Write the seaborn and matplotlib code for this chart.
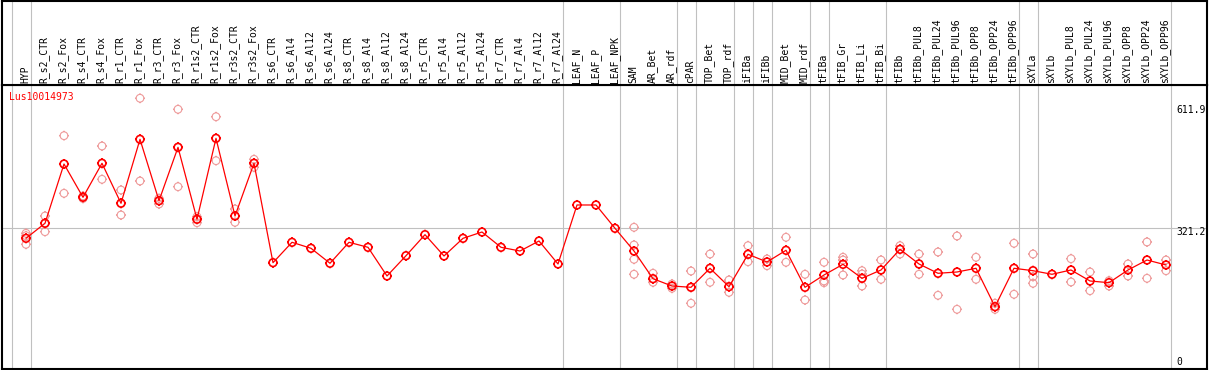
import matplotlib
matplotlib.use("Agg")
import matplotlib.pyplot as plt
from matplotlib.path import Path
import pandas as pd
import seaborn as sns

# データ
gene_id = "Lus10014973"

categories = [
    "HYP", "R_s2_CTR", "R_s2_Fox", "R_s4_CTR", "R_s4_Fox", "R_r1_CTR", "R_r1_Fox",
    "R_r3_CTR", "R_r3_Fox", "R_r1s2_CTR", "R_r1s2_Fox", "R_r3s2_CTR", "R_r3s2_Fox",
    "R_s6_CTR", "R_s6_Al4", "R_s6_Al12", "R_s6_Al24", "R_s8_CTR", "R_s8_Al4",
    "R_s8_Al12", "R_s8_Al24", "R_r5_CTR", "R_r5_Al4", "R_r5_Al12", "R_r5_Al24",
    "R_r7_CTR", "R_r7_Al4", "R_r7_Al12", "R_r7_Al24", "LEAF_N", "LEAF_P", "LEAF_NPK",
    "SAM", "AR_Bet", "AR_rdf", "cPAR", "TOP_Bet", "TOP_rdf", "iFIBa", "iFIBb",
    "MID_Bet", "MID_rdf", "tFIBa", "tFIB_Gr", "tFIB_Li", "tFIB_Bi", "tFIBb",
    "tFIBb_PUL8", "tFIBb_PUL24", "tFIBb_PUL96", "tFIBb_OPP8", "tFIBb_OPP24",
    "tFIBb_OPP96", "sXYLa", "sXYLb", "sXYLb_PUL8", "sXYLb_PUL24", "sXYLb_PUL96",
    "sXYLb_OPP8", "sXYLb_OPP24", "sXYLb_OPP96",
]

mean_vals = [
    298.8, 332.4, 464.9, 390.5, 466.5, 377.1, 520.1, 382.9, 502.2, 341.3, 522.3,
    348.7, 466.5, 244.3, 289.9, 276.5, 243.0, 289.9, 278.7, 214.6, 259.9, 306.9,
    259.3, 298.8, 312.9, 278.7, 270.4, 292.8, 241.4, 373.3, 373.3, 321.2,
    270.4, 208.5, 192.2, 189.3, 231.8, 190.7, 263.1, 245.9, 272.0, 189.3,
    216.8, 240.7, 209.4, 228.0, 274.2, 241.4, 220.6, 223.5, 231.8, 146.0,
    231.8, 226.4, 218.4, 228.0, 203.4, 199.6, 228.0, 250.3, 239.2,
]

# 各サンプルの反復値
rep_vals = [
    [310.0, 304.6, 285.4], [348.7, 333.0, 313.6], [528.2, 464.9, 399.4],
    [393.4, 387.8], [505.1, 467.0, 430.7], [406.8, 377.7, 350.9],
    [611.9, 426.9], [388.2, 382.2, 375.5], [587.2, 502.9, 414.2],
    [347.1, 342.0, 333.7], [570.6, 472.3], [364.3, 348.7, 334.6],
    [475.4, 467.1, 457.5],
    [], [], [], [], [], [], [], [], [], [], [], [], [], [], [], [], [], [], [],
    [323.4, 283.9, 251.9, 218.4], [220.6, 200.5], [196.7, 187.1],
    [225.7, 189.9, 153.6], [263.7, 200.5], [205.6, 178.1], [282.3, 246.5],
    [252.6, 237.6], [301.1, 245.2], [218.4, 160.9], [245.2, 203.4, 199.6],
    [256.4, 250.3, 216.8], [226.4, 219.0, 192.2], [250.3, 207.2],
    [282.3, 263.7], [263.7, 218.4], [268.2, 171.4], [304.0, 140.1],
    [256.4, 207.2], [153.6, 140.1], [287.7, 173.7], [263.7, 213.0, 198.3],
    [], [253.2, 201.2], [223.5, 181.7], [204.1, 192.2], [241.4, 214.6],
    [290.6, 209.4], [250.3, 226.4],
]

# グループの区切り（各グループ最後のサンプル）
group_ends = [-1, 0, 28, 31, 34, 35, 37, 38, 39, 41, 42, 45, 52, 53, 60]

ytick_vals = [611.9, 321.2, 0]
ytick_labels = ["611.9", "321.2", "0"]
ytick_shift = [-12, -3.5, 10]

RED = "#ff0000"
PINK = "#ee9a9a"
GREY = "#c0c0c0"
FONT = "DejaVu Sans Mono"

sns.set_style("white")
plt.rcParams["font.family"] = [FONT, "DejaVu Sans"]


def tick_circle():
    """小さな目盛り付きの円マーカー"""
    parts = [Path.unit_circle()]
    for dx, dy in [(0, 1), (0, -1), (1, 0), (-1, 0)]:
        parts.append(Path([(dx, dy), (dx * 1.3, dy * 1.3)], [Path.MOVETO, Path.LINETO]))
    return Path.make_compound_path(*parts)


marker = tick_circle()
pos = list(range(len(categories)))

rep_df = pd.DataFrame(
    [(i, v) for i, vals in enumerate(rep_vals) for v in vals],
    columns=["pos", "value"],
)

W, H = 1209, 370
fig = plt.figure(figsize=(W / 100, H / 100), dpi=100)
left, right = 1.7 / W, 1207.3 / W
ax = fig.add_axes([left, 0.7 / H, right - left, (369.3 - 85) / H])
ax_h = fig.add_axes([left, (H - 85) / H, right - left, (85 - 0.7) / H])

xlim = ((1.7 - 26) / 19, (1207.3 - 26) / 19)
for a in (ax, ax_h):
    a.set_xlim(*xlim)
    a.set_xticks([])
    a.set_yticks([])
    for s in a.spines.values():
        s.set_color("black")
        s.set_linewidth(1.5)
    for g in group_ends:
        a.axvline(g + 0.25, color=GREY, lw=0.8, zorder=0)

ax.set_ylim(6.0, 641.5)
ax_h.set_ylim(0, 1)
ax.axhline(321.2, color=GREY, lw=0.8, zorder=0)

# 反復値（薄い赤）
sns.scatterplot(data=rep_df, x="pos", y="value", marker=marker, s=52,
                facecolor="none", edgecolor=PINK, linewidth=0.8,
                legend=False, ax=ax, zorder=2)

# 平均値の折れ線
sns.lineplot(x=pos, y=mean_vals, color=RED, lw=0.9, ax=ax, zorder=3)
sns.scatterplot(x=pos, y=mean_vals, marker=marker, s=52,
                facecolor="none", edgecolor=RED, linewidth=1.2,
                legend=False, ax=ax, zorder=4)
ax.set_xlabel("")
ax.set_ylabel("")

# 右側の目盛りラベル
for v, lab, dy in zip(ytick_vals, ytick_labels, ytick_shift):
    ax.annotate(lab, xy=(1, v), xycoords=("axes fraction", "data"),
                xytext=(-31, dy), textcoords="offset pixels",
                ha="left", va="center", fontsize=7, color="black")

ax.annotate(gene_id, xy=(0, 1), xycoords="axes fraction",
            xytext=(7.5, -12), textcoords="offset pixels",
            ha="left", va="center", fontsize=7, color=RED)

# 上部のサンプル名
for i, lab in enumerate(categories):
    ax_h.text(i - 0.05, 0.025, lab, rotation=90, ha="center", va="bottom",
              fontsize=7, color="black")

fig.savefig("out.png", dpi=100, facecolor="white")
